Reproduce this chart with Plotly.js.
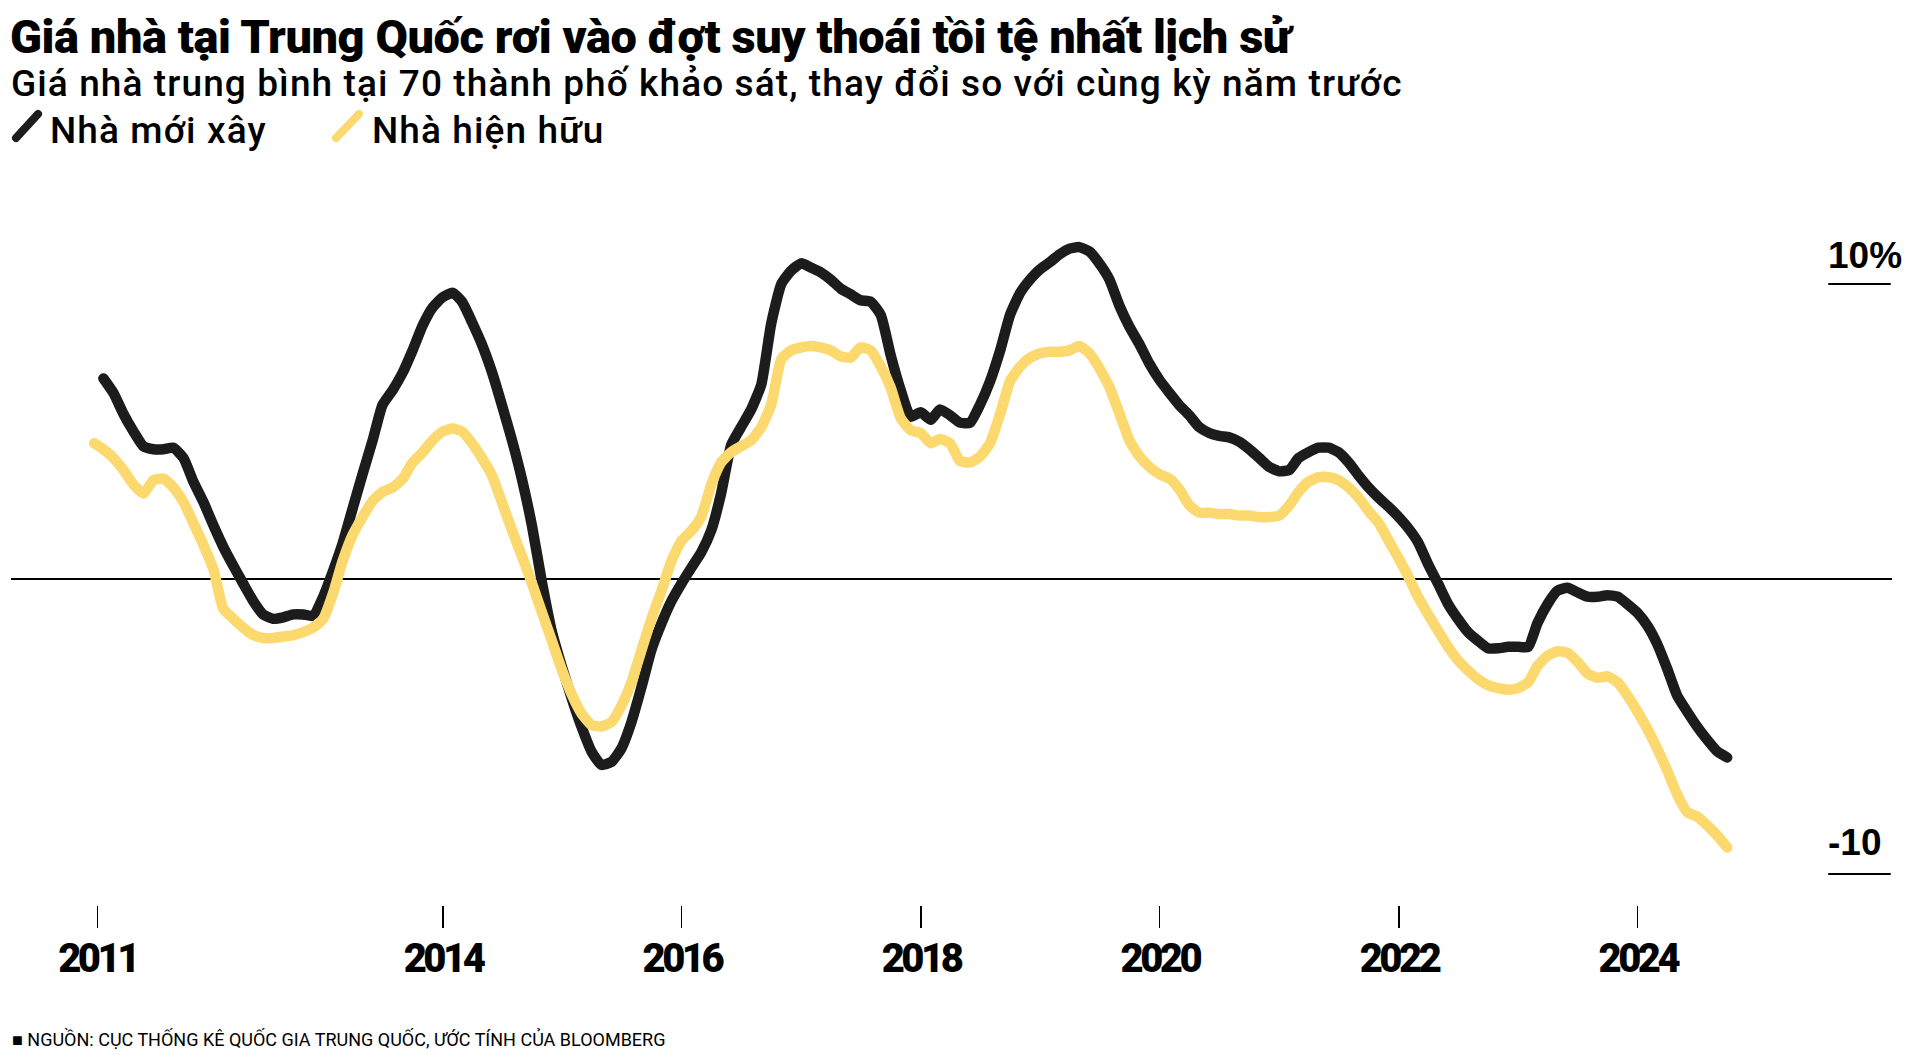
<!DOCTYPE html>
<html><head><meta charset="utf-8">
<script src="https://cdn.plot.ly/plotly-3.0.1.min.js"></script>
<style>
html,body{margin:0;padding:0;background:#fff;}
#chart{width:1920px;height:1055px;}
.js-line{stroke-linecap:round !important;stroke-linejoin:round !important;}
.shapelayer path{stroke-linecap:round;}
.gtitle{letter-spacing:-0.45px;}
.xtick text{letter-spacing:-3.5px;}
</style>
</head><body><div id="chart"></div>
<script>
// ---- data ----
const firstYear = 2011;          // series start: January 2011 (monthly, month-end)
const monthCount = 165;          // Jan 2011 .. Sep 2024
const seriesNames = ['Nhà mới xây', 'Nhà hiện hữu'];
const newHomes = [null,
  6.8, 6.3, 5.6, 5.0, 4.5, 4.4, 4.4, 4.45, 4.1, 3.3,
  2.6, 1.8, 1.1, 0.45, -0.15, -0.75, -1.2, -1.35, -1.3, -1.2,
  -1.2, -1.25, -0.6, 0.3, 1.2, 2.4, 3.55, 4.7, 5.9, 6.4,
  7.0, 7.75, 8.6, 9.2, 9.55, 9.7, 9.4, 8.7, 7.95, 7.0,
  5.9, 4.7, 3.35, 1.8, -0.15, -1.8, -3.0, -4.1, -5.0, -5.85,
  -6.3, -6.2, -5.75, -4.85, -3.65, -2.4, -1.5, -0.75, -0.15, 0.4,
  0.9, 1.65, 2.9, 4.55, 5.15, 5.75, 6.6, 8.65, 10.0, 10.45,
  10.7, 10.55, 10.4, 10.15, 9.85, 9.65, 9.45, 9.4, 8.95, 7.6,
  6.4, 5.5, 5.65, 5.4, 5.75, 5.55, 5.3, 5.3, 5.9, 6.7,
  7.75, 8.95, 9.7, 10.15, 10.5, 10.75, 11.0, 11.2, 11.25, 11.1,
  10.7, 10.15, 9.25, 8.55, 7.95, 7.3, 6.75, 6.3, 5.9, 5.55,
  5.15, 4.95, 4.85, 4.8, 4.65, 4.4, 4.1, 3.8, 3.65, 3.7,
  4.1, 4.3, 4.45, 4.45, 4.3, 3.95, 3.5, 3.1, 2.75, 2.45,
  2.1, 1.7, 1.25, 0.5, -0.15, -0.85, -1.35, -1.8, -2.1, -2.35,
  -2.35, -2.3, -2.3, -2.3, -1.5, -0.85, -0.4, -0.3, -0.45, -0.6,
  -0.6, -0.55, -0.6, -0.85, -1.15, -1.6, -2.2, -3.05, -3.95, -4.5,
  -5.0, -5.45, -5.85, -6.05];
const existingHomes = [
  4.6, 4.4, 4.1, 3.7, 3.2, 2.9, 3.35, 3.4, 3.1, 2.6,
  1.9, 1.15, 0.3, -1.0, -1.35, -1.65, -1.9, -2.0, -2.0, -1.95,
  -1.9, -1.8, -1.65, -1.35, -0.45, 0.6, 1.5, 2.1, 2.65, 2.95,
  3.1, 3.4, 3.95, 4.3, 4.7, 5.0, 5.1, 5.0, 4.6, 4.1,
  3.5, 2.6, 1.65, 0.75, -0.15, -1.15, -2.1, -3.1, -3.95, -4.55,
  -4.95, -5.0, -4.85, -4.3, -3.5, -2.4, -1.35, -0.4, 0.6, 1.3,
  1.65, 2.1, 3.2, 3.95, 4.3, 4.5, 4.7, 5.15, 5.9, 7.45,
  7.75, 7.85, 7.9, 7.85, 7.75, 7.55, 7.5, 7.85, 7.75, 7.2,
  6.5, 5.45, 5.05, 4.95, 4.6, 4.75, 4.6, 4.0, 3.95, 4.15,
  4.6, 5.6, 6.7, 7.2, 7.5, 7.65, 7.7, 7.7, 7.75, 7.9,
  7.65, 7.15, 6.5, 5.6, 4.7, 4.15, 3.8, 3.55, 3.4, 3.05,
  2.5, 2.25, 2.25, 2.2, 2.2, 2.15, 2.15, 2.1, 2.1, 2.15,
  2.5, 2.95, 3.3, 3.45, 3.45, 3.35, 3.1, 2.75, 2.3, 1.9,
  1.3, 0.7, 0.05, -0.6, -1.2, -1.75, -2.3, -2.75, -3.1, -3.4,
  -3.6, -3.7, -3.75, -3.7, -3.5, -2.95, -2.6, -2.45, -2.5, -2.8,
  -3.2, -3.35, -3.3, -3.5, -3.95, -4.5, -5.1, -5.75, -6.5, -7.3,
  -7.9, -8.05, -8.35, -8.7, -9.1];
const tickLabels = ['2011', '2014', '2016', '2018', '2020', '2022', '2024'];
const tickDates = ['2011-02-10', '2014-01-01', '2016-01-01', '2018-01-01', '2020-01-01', '2022-01-01', '2024-01-01'];
const yLabelText = ['10%', '-10'];
const yLabelValues = [10, -10];
const titleText = 'Giá nhà tại Trung Quốc rơi vào đợt suy thoái tồi tệ nhất lịch sử';
const subtitleText = 'Giá nhà trung bình tại 70 thành phố khảo sát, thay đổi so với cùng kỳ năm trước';
const sourceText = '■ NGUỒN: CỤC THỐNG KÊ QUỐC GIA TRUNG QUỐC, ƯỚC TÍNH CỦA BLOOMBERG';

// ---- month-end dates ----
const dates = [];
for (let i = 0; i < monthCount; i++) {
  const y = firstYear + Math.floor(i / 12), m = i % 12;
  dates.push(new Date(Date.UTC(y, m + 1, 0)).toISOString().slice(0, 10));
}

// ---- geometry ----
const W = 1920, H = 1055;
const L = 11, R = 1892, T = 180, B = 905;
const PX2014 = 443, PX_PER_YEAR = 119.5, ZERO_PX = 579, PX_PER_PCT = 29.5;
const YEAR_MS = 365.25 * 864e5, T2014 = Date.UTC(2014, 0, 1);
function pxToDate(px) {
  const ms = T2014 + (px - PX2014) / PX_PER_YEAR * YEAR_MS;
  return new Date(ms).toISOString().replace('T', ' ').replace('Z', '');
}
const xRange = [pxToDate(L), pxToDate(R)];
const yRange = [(ZERO_PX - B) / PX_PER_PCT, (ZERO_PX - T) / PX_PER_PCT];
const px2paperX = px => (px - L) / (R - L);
const px2paperY = py => (B - py) / (B - T);

const BLACK = '#1c1c1c', YELLOW = '#fbd96e';
const HEAVY = 'Roboto, "DejaVu Sans Condensed", sans-serif';
const REG = 'Roboto, "Liberation Sans", sans-serif';
const ARIAL = '"Liberation Sans", Arial, sans-serif';
const spaced = s => '<span style="letter-spacing:1.1px">' + s + '</span>';

const traces = [
  {x: dates, y: newHomes, name: seriesNames[0], type: 'scatter', mode: 'lines',
   line: {color: BLACK, width: 10.5, shape: 'spline', smoothing: 0.5}, hoverinfo: 'skip', connectgaps: false},
  {x: dates, y: existingHomes, name: seriesNames[1], type: 'scatter', mode: 'lines',
   line: {color: YELLOW, width: 10.5, shape: 'spline', smoothing: 0.5}, hoverinfo: 'skip', connectgaps: false}
];

const annotations = [
  {text: spaced(subtitleText), xref: 'paper', yref: 'paper', x: px2paperX(10), y: px2paperY(83.5),
   xanchor: 'left', yanchor: 'middle', showarrow: false, borderpad: 0,
   font: {family: REG, size: 37, weight: 500, color: '#000'}},
  {text: spaced(seriesNames[0]), xref: 'paper', yref: 'paper', x: px2paperX(49), y: px2paperY(130),
   xanchor: 'left', yanchor: 'middle', showarrow: false, borderpad: 0,
   font: {family: REG, size: 37, weight: 500, color: '#000'}},
  {text: spaced(seriesNames[1]), xref: 'paper', yref: 'paper', x: px2paperX(371), y: px2paperY(130),
   xanchor: 'left', yanchor: 'middle', showarrow: false, borderpad: 0,
   font: {family: REG, size: 37, weight: 500, color: '#000'}},
  {text: sourceText, xref: 'paper', yref: 'paper', x: px2paperX(10), y: px2paperY(1039),
   xanchor: 'left', yanchor: 'middle', showarrow: false,
   font: {family: REG, size: 18, color: '#000'}}
];
const yShifts = [6, 9];
yLabelText.forEach((t, k) => {
  annotations.push({text: t, xref: 'paper', yref: 'y', x: px2paperX(1826), y: yLabelValues[k],
    xanchor: 'left', yanchor: 'bottom', yshift: yShifts[k], showarrow: false,
    font: {family: ARIAL, size: 37, weight: 700, color: '#000'}});
});

const shapes = [
  {type: 'line', xref: 'paper', yref: 'paper', x0: px2paperX(16), y0: px2paperY(138), x1: px2paperX(38), y1: px2paperY(114),
   line: {color: BLACK, width: 8}},
  {type: 'line', xref: 'paper', yref: 'paper', x0: px2paperX(336), y0: px2paperY(138), x1: px2paperX(359), y1: px2paperY(114),
   line: {color: YELLOW, width: 8}}
];
yLabelValues.forEach(v => {
  shapes.push({type: 'line', xref: 'paper', yref: 'y', x0: px2paperX(1829), x1: px2paperX(1890), y0: v, y1: v,
    line: {color: '#000', width: 2}});
});

const layout = {
  width: W, height: H, autosize: false,
  paper_bgcolor: '#fff', plot_bgcolor: '#fff',
  margin: {l: L, r: W - R, t: T, b: H - B, pad: 0},
  showlegend: false,
  title: {text: titleText, xref: 'container', yref: 'container', x: 10 / W, xanchor: 'left',
          y: 1 - 37 / H, yanchor: 'middle', pad: {t: 0, b: 0, l: 0, r: 0},
          font: {family: HEAVY, size: 47, weight: 900, color: '#000'}},
  xaxis: {type: 'date', range: xRange, tickmode: 'array', tickvals: tickDates, ticktext: tickLabels,
          ticks: 'outside', ticklen: 22, tickwidth: 1.3, tickcolor: '#000', ticklabelstandoff: -4,
          showgrid: false, zeroline: false, showline: false, fixedrange: true,
          tickfont: {family: HEAVY, size: 40, weight: 900, color: '#000'}},
  yaxis: {range: yRange, showticklabels: false, ticks: '', showgrid: false, showline: false,
          zeroline: true, zerolinecolor: '#000', zerolinewidth: 1.6, layer: 'below traces', fixedrange: true},
  annotations: annotations,
  shapes: shapes
};

Plotly.newPlot('chart', traces, layout, {displayModeBar: false, staticPlot: true});
</script>
</body></html>
